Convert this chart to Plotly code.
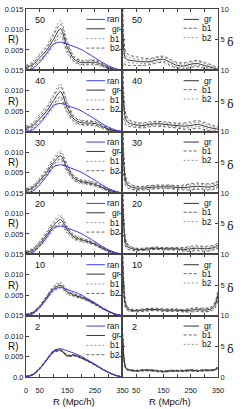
import numpy as np
import plotly.graph_objects as go

# ---------------- data ----------------
R_L = [0, 25, 50, 75, 100, 125, 150, 175, 200, 225, 250, 275, 300, 325, 350]
R_R = [0, 5, 10, 15, 20, 30, 50, 75, 100, 125, 150, 175, 200, 225, 250, 275, 300, 325, 340, 350]
N_labels = ["50", "40", "30", "20", "10", "2"]

ran = [0.0000, 0.0005, 0.0020, 0.0042, 0.0064, 0.0069, 0.0064, 0.0058, 0.0051, 0.0041, 0.0031, 0.0020, 0.0011, 0.0004, 0.0000]

gr_50 = [0.0007, 0.0014, 0.0031, 0.0049, 0.0076, 0.0102, 0.0056, 0.0027, 0.0019, 0.0019, 0.0020, 0.0014, 0.0006, 0.0002, 0.0000]
gr_40 = [0.0008, 0.0015, 0.0032, 0.0050, 0.0076, 0.0098, 0.0058, 0.0030, 0.0022, 0.0021, 0.0020, 0.0013, 0.0006, 0.0002, 0.0000]
gr_30 = [0.0006, 0.0013, 0.0030, 0.0050, 0.0074, 0.0091, 0.0060, 0.0036, 0.0028, 0.0025, 0.0021, 0.0014, 0.0007, 0.0002, 0.0000]
gr_20 = [0.0004, 0.0010, 0.0026, 0.0047, 0.0070, 0.0085, 0.0060, 0.0042, 0.0036, 0.0031, 0.0025, 0.0016, 0.0008, 0.0003, 0.0000]
gr_10 = [0.0002, 0.0007, 0.0022, 0.0044, 0.0066, 0.0074, 0.0058, 0.0050, 0.0045, 0.0038, 0.0029, 0.0019, 0.0010, 0.0003, 0.0000]
gr_2 = [0.0001, 0.0006, 0.0021, 0.0042, 0.0062, 0.0066, 0.0052, 0.0053, 0.0047, 0.0039, 0.0030, 0.0020, 0.0011, 0.0004, 0.0000]

b1_err_50 = [0.0006, 0.0008, 0.0011, 0.0013, 0.0017, 0.0020, 0.0015, 0.0008, 0.0006, 0.0006, 0.0006, 0.0005, 0.0003, 0.0002, 0.0000]
b1_err_40 = [0.0006, 0.0008, 0.0011, 0.0013, 0.0016, 0.0019, 0.0014, 0.0008, 0.0006, 0.0006, 0.0006, 0.0005, 0.0003, 0.0002, 0.0000]
b1_err_30 = [0.0005, 0.0006, 0.0008, 0.0010, 0.0012, 0.0013, 0.0010, 0.0006, 0.0005, 0.0005, 0.0005, 0.0004, 0.0003, 0.0001, 0.0000]
b1_err_20 = [0.0004, 0.0005, 0.0007, 0.0009, 0.0011, 0.0012, 0.0009, 0.0006, 0.0005, 0.0004, 0.0004, 0.0003, 0.0002, 0.0001, 0.0000]
b1_err_10 = [0.0002, 0.0003, 0.0004, 0.0005, 0.0007, 0.0008, 0.0006, 0.0004, 0.0003, 0.0003, 0.0003, 0.0002, 0.0001, 0.0001, 0.0000]
b1_err_2 = [0.0001, 0.0001, 0.0002, 0.0002, 0.0003, 0.0003, 0.0002, 0.0002, 0.0001, 0.0001, 0.0001, 0.0001, 0.0001, 0.0000, 0.0000]

b2_err_50 = [0.0003, 0.0004, 0.0006, 0.0007, 0.0010, 0.0011, 0.0009, 0.0005, 0.0004, 0.0004, 0.0004, 0.0003, 0.0002, 0.0001, 0.0000]
b2_err_40 = [0.0003, 0.0004, 0.0006, 0.0007, 0.0010, 0.0012, 0.0009, 0.0005, 0.0004, 0.0004, 0.0004, 0.0003, 0.0002, 0.0001, 0.0000]
b2_err_30 = [0.0003, 0.0003, 0.0004, 0.0005, 0.0006, 0.0007, 0.0006, 0.0004, 0.0003, 0.0003, 0.0003, 0.0002, 0.0001, 0.0001, 0.0000]
b2_err_20 = [0.0002, 0.0003, 0.0004, 0.0005, 0.0006, 0.0007, 0.0005, 0.0003, 0.0003, 0.0002, 0.0002, 0.0002, 0.0001, 0.0001, 0.0000]
b2_err_10 = [0.0001, 0.0002, 0.0002, 0.0003, 0.0004, 0.0004, 0.0003, 0.0002, 0.0002, 0.0002, 0.0002, 0.0001, 0.0001, 0.0000, 0.0000]
b2_err_2 = [0.0001, 0.0001, 0.0001, 0.0001, 0.0002, 0.0002, 0.0001, 0.0001, 0.0001, 0.0001, 0.0001, 0.0001, 0.0000, 0.0000, 0.0000]

delta_gr_50 = [6.5, 3.2, 2.1, 1.8, 1.7, 1.6, 1.5, 1.4, 1.4, 1.7, 1.8, 1.3, 0.8, 0.7, 1.0, 1.1, 0.8, 0.5, 0.3, 0.2]
delta_gr_40 = [8.0, 4.0, 2.3, 1.8, 1.5, 1.3, 1.1, 1.0, 1.2, 1.3, 1.2, 1.1, 1.0, 0.9, 1.0, 1.2, 0.9, 0.6, 0.5, 0.4]
delta_gr_30 = [9.0, 4.5, 2.3, 1.6, 1.3, 1.0, 0.8, 0.8, 0.9, 1.0, 1.0, 1.0, 0.9, 0.9, 1.0, 1.1, 1.0, 1.0, 1.2, 1.4]
delta_gr_20 = [9.0, 4.5, 2.2, 1.5, 1.2, 1.0, 0.8, 0.8, 0.9, 1.0, 0.9, 0.9, 0.9, 0.8, 0.9, 1.0, 0.9, 1.0, 1.2, 1.5]
delta_gr_10 = [9.0, 4.3, 2.0, 1.4, 1.1, 0.9, 0.8, 0.9, 1.0, 1.0, 0.9, 0.9, 0.9, 0.8, 0.9, 1.0, 0.9, 1.1, 1.8, 3.4]
delta_gr_2 = [7.0, 3.2, 1.7, 1.3, 1.2, 1.1, 1.0, 1.1, 1.1, 1.0, 0.9, 1.0, 1.0, 1.0, 1.1, 1.0, 1.1, 1.1, 1.2, 1.6]

delta_b1_err_50 = [6.0, 2.0, 1.2, 1.0, 0.9, 0.8, 0.7, 0.6, 0.5, 0.5, 0.5, 0.5, 0.5, 0.5, 0.5, 0.5, 0.5, 0.4, 0.3, 0.3]
delta_b1_err_40 = [6.0, 2.0, 1.0, 0.8, 0.6, 0.5, 0.4, 0.4, 0.4, 0.4, 0.4, 0.4, 0.4, 0.5, 0.6, 0.6, 0.6, 0.5, 0.4, 0.4]
delta_b1_err_30 = [5.0, 1.8, 0.9, 0.6, 0.5, 0.4, 0.3, 0.3, 0.3, 0.3, 0.3, 0.3, 0.3, 0.4, 0.5, 0.5, 0.5, 0.5, 0.5, 0.5]
delta_b1_err_20 = [5.0, 1.6, 0.8, 0.5, 0.4, 0.3, 0.2, 0.2, 0.2, 0.2, 0.2, 0.2, 0.2, 0.3, 0.4, 0.4, 0.4, 0.4, 0.4, 0.5]
delta_b1_err_10 = [4.0, 1.4, 0.6, 0.4, 0.3, 0.2, 0.2, 0.2, 0.2, 0.2, 0.2, 0.2, 0.2, 0.2, 0.3, 0.3, 0.3, 0.3, 0.5, 0.8]
delta_b1_err_2 = [1.0, 0.4, 0.2, 0.1, 0.1, 0.1, 0.1, 0.1, 0.1, 0.1, 0.1, 0.1, 0.1, 0.1, 0.1, 0.1, 0.1, 0.1, 0.1, 0.2]

delta_b2_err_50 = [3.0, 1.0, 0.6, 0.5, 0.4, 0.4, 0.3, 0.3, 0.3, 0.3, 0.3, 0.3, 0.3, 0.3, 0.3, 0.3, 0.3, 0.2, 0.2, 0.2]
delta_b2_err_40 = [3.0, 1.0, 0.5, 0.4, 0.3, 0.3, 0.2, 0.2, 0.2, 0.2, 0.2, 0.2, 0.2, 0.3, 0.3, 0.3, 0.3, 0.3, 0.2, 0.2]
delta_b2_err_30 = [2.5, 0.9, 0.4, 0.3, 0.2, 0.2, 0.2, 0.2, 0.2, 0.2, 0.2, 0.2, 0.2, 0.2, 0.3, 0.3, 0.3, 0.3, 0.3, 0.3]
delta_b2_err_20 = [2.5, 0.8, 0.4, 0.3, 0.2, 0.2, 0.1, 0.1, 0.1, 0.1, 0.1, 0.1, 0.1, 0.2, 0.2, 0.2, 0.2, 0.2, 0.2, 0.3]
delta_b2_err_10 = [2.0, 0.7, 0.3, 0.2, 0.2, 0.1, 0.1, 0.1, 0.1, 0.1, 0.1, 0.1, 0.1, 0.1, 0.2, 0.2, 0.2, 0.2, 0.3, 0.4]
delta_b2_err_2 = [0.5, 0.2, 0.1, 0.1, 0.1, 0.1, 0.1, 0.1, 0.1, 0.1, 0.1, 0.1, 0.1, 0.1, 0.1, 0.1, 0.1, 0.1, 0.1, 0.1]

x_tickvals = [0, 50, 100, 150, 200, 250, 300, 350]
x_ticktext_left = ["0", "50", "", "150", "", "250", "", "350"]
x_ticktext_right = ["", "50", "", "150", "", "250", "", "350"]
p_tickvals = [0.005, 0.010, 0.015]
p_ticktext = ["0.005", "0.010", "0.015"]
d_tickvals = [5, 10]
d_ticktext = ["5", "10"]

gr_P = [gr_50, gr_40, gr_30, gr_20, gr_10, gr_2]
b1_P = [b1_err_50, b1_err_40, b1_err_30, b1_err_20, b1_err_10, b1_err_2]
b2_P = [b2_err_50, b2_err_40, b2_err_30, b2_err_20, b2_err_10, b2_err_2]
gr_D = [delta_gr_50, delta_gr_40, delta_gr_30, delta_gr_20, delta_gr_10, delta_gr_2]
b1_D = [delta_b1_err_50, delta_b1_err_40, delta_b1_err_30, delta_b1_err_20, delta_b1_err_10, delta_b1_err_2]
b2_D = [delta_b2_err_50, delta_b2_err_40, delta_b2_err_30, delta_b2_err_20, delta_b2_err_10, delta_b2_err_2]

# ---------------- styles ----------------
BLUE = "#3b3bf0"
GR = "#333333"
DOT = "#8a8a8a"
DASH = "#222222"
AX = "#444444"
FONT = "Liberation Sans, Arial, sans-serif"

fig = go.Figure()
W, H = 245, 409
ML, MR, MT, MB = 21, 27, 5, 32
PW = W - ML - MR
PH = H - MT - MB
col_dom = [[0, 99 / PW], [99 / PW, 1]]


def line(x, y, xa, ya, color, dash="solid", width=1.0):
    fig.add_trace(go.Scatter(x=x, y=y, xaxis=xa, yaxis=ya, mode="lines",
                             line=dict(color=color, dash=dash, width=width, shape="spline", smoothing=0.8),
                             showlegend=False, hoverinfo="skip"))


annotations = []
shapes = []
layout_axes = {}
for i in range(6):
    ydom = [1 - (i + 1) / 6, 1 - i / 6]
    last = i == 5
    for c in range(2):
        k = 2 * i + c + 1
        xa = "x" if k == 1 else f"x{k}"
        ya = "y" if k == 1 else f"y{k}"
        xname = "xaxis" if k == 1 else f"xaxis{k}"
        yname = "yaxis" if k == 1 else f"yaxis{k}"
        layout_axes[xname] = dict(
            domain=col_dom[c], anchor=ya, range=[0, 350],
            tickvals=x_tickvals, ticktext=(x_ticktext_left if c == 0 else x_ticktext_right),
            showticklabels=last, ticks="inside", ticklen=3, tickcolor=AX,
            showline=True, linecolor=AX, linewidth=1, mirror="ticks",
            showgrid=False, zeroline=False, ticklabelstandoff=6,
            tickfont=dict(size=7.5, family=FONT, color="#222"))
        if c == 0:
            tv = ([0] if last else []) + p_tickvals
            tt = (["0.0"] if last else []) + p_ticktext
            layout_axes[yname] = dict(
                domain=ydom, anchor=xa, range=[0, 0.015], tickvals=tv, ticktext=tt,
                ticks="inside", ticklen=3, tickcolor=AX, showline=True, linecolor=AX,
                linewidth=1, mirror="ticks", showgrid=False, zeroline=False,
                tickfont=dict(size=7.5, family=FONT, color="#222"))
        else:
            tv = ([0] if last else []) + d_tickvals
            tt = (["0"] if last else []) + d_ticktext
            layout_axes[yname] = dict(
                domain=ydom, anchor=xa, side="right", range=[0, 10], tickvals=tv, ticktext=tt,
                ticks="inside", ticklen=3, tickcolor=AX, showline=True, linecolor=AX,
                linewidth=1, mirror="ticks", showgrid=False, zeroline=False,
                tickfont=dict(size=7.5, family=FONT, color="#222"))

        if c == 0:
            g = np.array(gr_P[i]); e1 = np.array(b1_P[i]); e2 = np.array(b2_P[i])
            line(R_L, g + e1, xa, ya, DOT, "2px,2px", 0.9)
            line(R_L, g - e1, xa, ya, DOT, "2px,2px", 0.9)
            line(R_L, g + e2, xa, ya, DASH, "3px,2px", 0.7)
            line(R_L, g - e2, xa, ya, DASH, "3px,2px", 0.7)
            line(R_L, g, xa, ya, GR, "solid", 1.0)
            line(R_L, ran, xa, ya, BLUE, "solid", 1.0)
            entries = [("ran", BLUE, "solid", 1.0), ("gr", GR, "solid", 1.0),
                       ("b1", DOT, "2px,2px", 0.9), ("b2", DASH, "3px,2px", 0.7)]
            lx0, lx1, tx = 0.626, 0.818, 0.99
            ys = [10.5, 20, 30, 39.5]
        else:
            g = np.array(gr_D[i]); e1 = np.array(b1_D[i]); e2 = np.array(b2_D[i])
            line(R_R, g + e2, xa, ya, DOT, "2px,2px", 0.9)
            line(R_R, g - e2, xa, ya, DOT, "2px,2px", 0.9)
            line(R_R, g + e1, xa, ya, DASH, "3px,2px", 0.7)
            line(R_R, g - e1, xa, ya, DASH, "3px,2px", 0.7)
            line(R_R, g, xa, ya, GR, "solid", 1.0)
            entries = [("gr", GR, "solid", 1.0), ("b1", DASH, "3px,2px", 0.7), ("b2", DOT, "2px,2px", 0.9)]
            lx0, lx1, tx = 0.64, 0.80, 0.96
            ys = [10.5, 19.5, 29]

        for (lab, col, dsh, lw), yp in zip(entries, ys):
            yd = 1 - yp / 62
            shapes.append(dict(type="line", xref=f"{xa} domain", yref=f"{ya} domain",
                               x0=lx0, x1=lx1, y0=yd, y1=yd,
                               line=dict(color=col, width=lw, dash=dsh)))
            annotations.append(dict(text=lab, xref=f"{xa} domain", yref=f"{ya} domain",
                                    x=tx, y=yd, xanchor="right", yanchor="middle",
                                    showarrow=False, font=dict(size=8.5, family=FONT, color="#111")))
        annotations.append(dict(text=N_labels[i], xref=f"{xa} domain", yref=f"{ya} domain",
                                x=0.075, y=1 - 11 / 62, xanchor="left", yanchor="middle",
                                showarrow=False, font=dict(size=9, family=FONT, color="#111")))

    ymid = ydom[0] + 0.5 * (ydom[1] - ydom[0])
    annotations.append(dict(text="R)", xref="paper", yref="paper", x=-ML / PW, y=ymid,
                            xanchor="left", yanchor="middle", showarrow=False,
                            font=dict(size=10, family=FONT, color="#111")))
    annotations.append(dict(text="δ", xref="paper", yref="paper", x=(231 - ML) / PW,
                            y=ydom[0] + 0.45 * (ydom[1] - ydom[0]),
                            xanchor="center", yanchor="middle", showarrow=False,
                            font=dict(size=11, family="DejaVu Serif, serif", color="#111")))

for c in range(2):
    annotations.append(dict(text="R (Mpc/h)", xref="paper", yref="paper",
                            x=(col_dom[c][0] + col_dom[c][1]) / 2, y=-(401.5 - 377) / PH,
                            xanchor="center", yanchor="middle", showarrow=False,
                            font=dict(size=9.5, family=FONT, color="#111")))

fig.update_layout(width=W, height=H, margin=dict(l=ML, r=MR, t=MT, b=MB),
                  paper_bgcolor="white", plot_bgcolor="white",
                  annotations=annotations, shapes=shapes, showlegend=False, **layout_axes)

fig.write_html("out.html", config={"displayModeBar": False},
               post_script="document.body.style.margin='0';document.body.style.padding='0';")
